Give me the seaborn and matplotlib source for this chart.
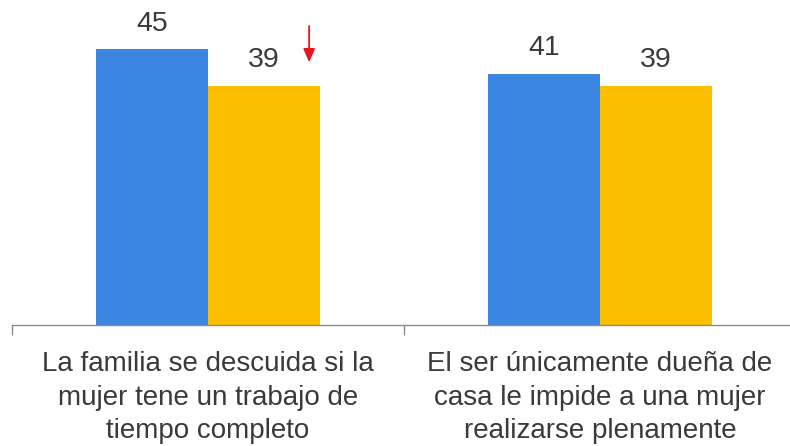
import pandas as pd
import numpy as np
import matplotlib
matplotlib.use('Agg')
import matplotlib.pyplot as plt
import seaborn as sns

categories = ['La familia se descuida si la\nmujer tene un trabajo de\ntiempo completo',
              'El ser únicamente dueña de\ncasa le impide a una mujer\nrealizarse plenamente']
series = ['A', 'B']
values_a = [45, 41]
values_b = [39, 39]
colors = ['#3b86e0', '#fcbf00']

df = pd.DataFrame({
    'categoria': categories * 2,
    'serie': [series[0]] * 2 + [series[1]] * 2,
    'valor': values_a + values_b,
})

sns.set_style('white')
plt.rcParams['font.family'] = ['Liberation Sans', 'DejaVu Sans']
text_color = '#3a3a3a'

fig = plt.figure(figsize=(7.9, 4.46), dpi=100)
ax = fig.add_axes([12 / 790, 121 / 446, 784 / 790, 325 / 446])

sns.barplot(data=df, x='categoria', y='valor', hue='serie', palette=colors,
            width=0.571, gap=0, saturation=1, linewidth=0, legend=False, ax=ax)

for cont in ax.containers:
    ax.bar_label(cont, padding=9, fontsize=20.5, color=text_color)

ax.set_xlim(-0.5, 1.5)
ax.set_ylim(0, 53)
ax.set_xlabel('')
ax.set_ylabel('')
ax.set_yticks([])

for side in ['top', 'right', 'left']:
    ax.spines[side].set_visible(False)
ax.spines['bottom'].set_color('#8a8a8a')
ax.spines['bottom'].set_linewidth(1)

ax.set_xticks([-0.5, 0.5, 1.5], minor=True)
ax.tick_params(axis='x', which='minor', length=7, width=1, color='#8a8a8a', direction='out', bottom=True)
ax.tick_params(axis='x', which='major', length=0, pad=19, labelsize=20, labelcolor=text_color, bottom=True)
for lab in ax.get_xticklabels():
    lab.set_linespacing(1.36)
    lab.set_ha('center')

# red arrow next to the first yellow bar
ax.annotate('', xy=(0.258, 42.4), xytext=(0.258, 49.2),
            arrowprops=dict(arrowstyle='-|>,head_length=0.8,head_width=0.35',
                            color='#e8141c', lw=1.3))

fig.savefig('out.png', dpi=100)
